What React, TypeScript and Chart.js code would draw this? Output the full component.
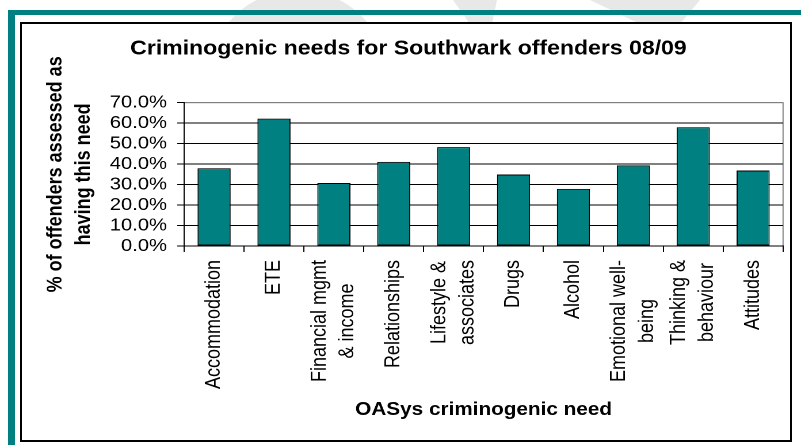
import React, { useEffect, useRef } from "react";
import { Chart, registerables } from "chart.js";

Chart.register(...registerables);

// ---------- data ----------
const categoryLines: string[][] = [
  ["Accommodation"],
  ["ETE"],
  ["Financial mgmt", "& income"],
  ["Relationships"],
  ["Lifestyle &", "associates"],
  ["Drugs"],
  ["Alcohol"],
  ["Emotional well-", "being"],
  ["Thinking &", "behaviour"],
  ["Attitudes"],
];
const needValues: number[] = [38.0, 62.2, 30.8, 41.1, 48.3, 34.9, 27.9, 39.4, 58.0, 36.9];
const yMin = 0;
const yMax = 70;
const yStep = 10;
const chartTitle = "Criminogenic needs for Southwark offenders 08/09";
const yAxisTitle = ["% of offenders assessed as", "having this need"];
const xAxisTitle = "OASys criminogenic need";

// ---------- style ----------
const FONT = "'Liberation Sans', Arial, Helvetica, sans-serif";
const TEAL = "#008080";
const CANVAS_W = 696;
const PAGE_W = 801;
const PAGE_H = 445;
const SX = PAGE_W / CANVAS_W;

export default function App() {
  const ref = useRef<HTMLCanvasElement>(null);

  useEffect(() => {
    const canvas = ref.current;
    if (!canvas) return;

    const plotBorder = {
      id: "plotBorder",
      beforeDraw(chart: any) {
        const { ctx, chartArea: a } = chart;
        ctx.save();
        ctx.strokeStyle = "#808080";
        ctx.lineWidth = 1;
        ctx.strokeRect(a.left, a.top, a.right - a.left, a.bottom - a.top);
        ctx.restore();
      },
    };

    const xLabels = {
      id: "xLabels",
      afterDraw(chart: any) {
        const { ctx } = chart;
        const xs = chart.scales.x;
        const lineH = 24.3;
        const topY = chart.chartArea.bottom + 14;
        ctx.save();
        ctx.font = `18px ${FONT}`;
        ctx.fillStyle = "#000";
        ctx.textAlign = "center";
        ctx.textBaseline = "middle";
        categoryLines.forEach((lines, i) => {
          const cx = xs.getPixelForValue(i);
          const maxW = Math.max(...lines.map((l) => ctx.measureText(l).width));
          const yc = topY + maxW / 2;
          const n = lines.length;
          lines.forEach((line, j) => {
            const lx = cx + (j - (n - 1) / 2) * lineH;
            ctx.save();
            ctx.translate(lx, yc);
            ctx.rotate(-Math.PI / 2);
            ctx.fillText(line, 0, 0);
            ctx.restore();
          });
        });
        ctx.restore();
      },
    };

    const chart = new Chart(canvas, {
      type: "bar",
      data: {
        labels: categoryLines.map((l) => l.join(" ")),
        datasets: [
          {
            data: needValues,
            backgroundColor: TEAL,
            borderColor: "#000",
            borderWidth: 1,
            borderSkipped: false,
            barPercentage: 0.553,
            categoryPercentage: 1,
          },
        ],
      },
      options: {
        animation: false,
        responsive: true,
        maintainAspectRatio: false,
        devicePixelRatio: 2,
        layout: { padding: { left: 29.4, right: 15.6, top: 22, bottom: 4 } },
        plugins: {
          legend: { display: false },
          tooltip: { enabled: false },
          title: {
            display: true,
            text: chartTitle,
            color: "#000",
            font: { family: FONT, size: 20, weight: "bold", lineHeight: 1.2 },
            padding: { top: 15.2, bottom: 41.5 },
          },
        },
        scales: {
          x: {
            grid: {
              offset: true,
              drawOnChartArea: false,
              drawTicks: true,
              tickLength: 6,
              color: "#000",
              tickColor: "#000",
            },
            border: { color: "#000", width: 1 },
            ticks: { display: false },
            title: {
              display: true,
              text: xAxisTitle,
              color: "#000",
              font: { family: FONT, size: 18, weight: "bold", lineHeight: 1.2 },
              padding: { top: 0, bottom: 20.2 },
            },
            afterFit(s: any) {
              s.height = 195;
            },
          },
          y: {
            min: yMin,
            max: yMax,
            ticks: {
              stepSize: yStep,
              autoSkip: false,
              maxTicksLimit: 20,
              callback: (v: any) => Number(v).toFixed(1) + "%",
              color: "#000",
              font: { family: FONT, size: 17.5, lineHeight: 1 },
              padding: 9,
            },
            grid: {
              color: (c: any) => (c.tick && c.tick.value === yMax ? "#808080" : "#000"),
              tickColor: "#000",
              tickLength: 6,
              lineWidth: 1,
            },
            border: { color: "#000", width: 1 },
            title: {
              display: true,
              text: yAxisTitle,
              color: "#000",
              font: { family: FONT, size: 18, weight: "bold", lineHeight: 1.35 },
              padding: { top: 6.95, bottom: 0 },
            },
            afterFit(s: any) {
              s.width = 130.6;
            },
          },
        },
      } as any,
      plugins: [plotBorder, xLabels],
    });

    return () => chart.destroy();
  }, []);

  return (
    <div
      style={{
        position: "absolute",
        left: 0,
        top: 0,
        width: PAGE_W,
        height: PAGE_H,
        overflow: "hidden",
        background: "#fff",
      }}
    >
      <svg
        width={PAGE_W}
        height={PAGE_H}
        style={{ position: "absolute", left: 0, top: 0 }}
      >
        <circle cx={298} cy={81} r={91} fill="#e8e8e8" />
        <polygon points="453,0 497,0 492,24 470,24" fill="#e8e8e8" />
        <polygon points="590,0 700,0 680,24 640,24" fill="#e8e8e8" />
      </svg>
      <div
        style={{
          position: "absolute",
          left: 8,
          top: 10,
          width: PAGE_W - 8,
          height: 5,
          background: TEAL,
        }}
      />
      <div
        style={{
          position: "absolute",
          left: 8,
          top: 10,
          width: 7,
          height: PAGE_H - 10,
          background: TEAL,
        }}
      />
      <div
        style={{
          position: "absolute",
          left: 20,
          top: 22,
          width: 772,
          height: 420,
          boxSizing: "border-box",
          border: "2px solid #000",
          background: "#fff",
        }}
      />
      <div
        style={{
          position: "absolute",
          left: 0,
          top: 0,
          width: CANVAS_W,
          height: PAGE_H,
          transform: `scaleX(${SX})`,
          transformOrigin: "0 0",
        }}
      >
        <canvas ref={ref} />
      </div>
    </div>
  );
}
